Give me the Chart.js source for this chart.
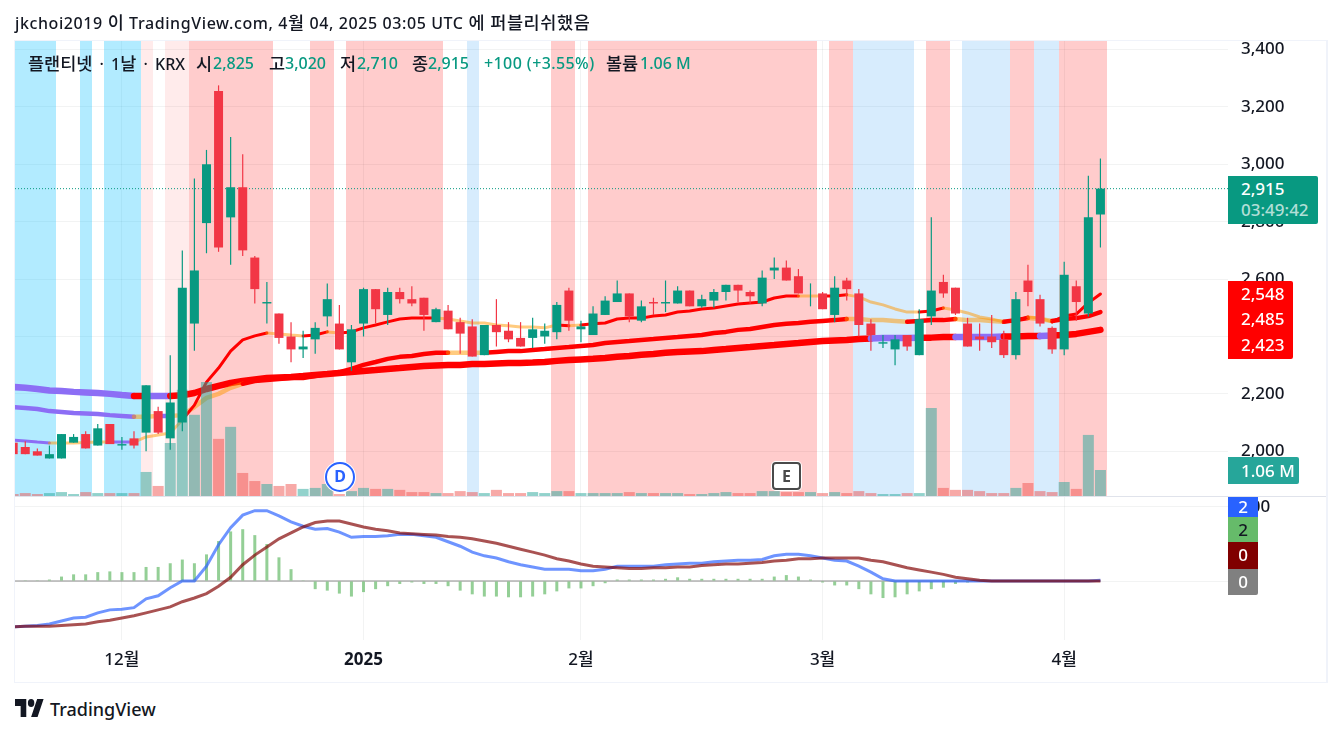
<!DOCTYPE html>
<html lang="ko">
<head>
<meta charset="utf-8">
<title>플랜티넷 1날 KRX</title>
<script src="https://cdn.jsdelivr.net/npm/chart.js@4"></script>
<style>
  html, body { margin:0; padding:0; background:#fff; }
  body { width:1341px; height:735px; position:relative; overflow:hidden; color:#131722;
         font-family:"Noto Sans","Noto Sans CJK KR",sans-serif; font-size:16px; font-weight:500; }
  canvas { position:absolute; left:15px; }
  #mainChart { top:20px; }
  #macdChart { top:497px; }
  .frame { position:absolute; left:14px; top:40px; width:1311px; height:641px; border:1px solid #f0f3fa; border-right-width:2px; }
  .sep { position:absolute; left:15px; top:496px; width:1311px; height:1px; background:#e0e3eb; }
  .txt { position:absolute; white-space:nowrap; line-height:20px; }
  .ko { font-size:17.5px; }
  .g { color:#089981; }
  .tag { position:absolute; left:1228px; color:#fff; border-radius:0 2px 2px 0; font-size:17px; }
  .tag span { position:absolute; left:13px; line-height:20px; white-space:nowrap; }
  .ev { position:absolute; background:#fff; text-align:center; font-weight:700; box-sizing:border-box; }
</style>
</head>
<body>
<div class="frame"></div>
<canvas id="mainChart" width="1311" height="476"></canvas>
<canvas id="macdChart" width="1311" height="185"></canvas>
<div class="sep"></div>

<div class="txt" style="left:15px;top:12px;letter-spacing:.6px">jkchoi2019 <span class="ko">이</span> TradingView.com, 4<span class="ko">월</span> 04, 2025 03:05 UTC <span class="ko">에 퍼블리쉬했음</span></div>

<!-- 심볼 범례 -->
<div class="txt" style="left:28px;top:53px;word-spacing:3px"><span class="ko">플랜티넷</span> · 1<span class="ko">날</span> · KRX</div>
<div class="txt ko" style="left:196px;top:53px">시</div><div class="txt g" style="left:213px;top:53px">2,825</div>
<div class="txt ko" style="left:269px;top:53px">고</div><div class="txt g" style="left:285px;top:53px">3,020</div>
<div class="txt ko" style="left:340px;top:53px">저</div><div class="txt g" style="left:357px;top:53px">2,710</div>
<div class="txt ko" style="left:412px;top:53px">종</div><div class="txt g" style="left:428px;top:53px">2,915</div>
<div class="txt g" style="left:484px;top:53px;letter-spacing:.4px">+100 (+3.55%)</div>
<div class="txt ko" style="left:606px;top:53px">볼륨</div><div class="txt g" style="left:640px;top:53px">1.06 M</div>

<!-- 이벤트 마커 -->
<div class="ev" style="left:325px;top:462px;width:30px;height:30px;line-height:25px;border:2px solid #2962ff;border-radius:50%;color:#2962ff;box-shadow:0 0 0 1px #fff">D</div>
<div class="ev" style="left:772px;top:462px;width:29px;height:28px;line-height:24px;border:2px solid #4a4a4a;border-radius:4px;color:#4a4a4a;box-shadow:0 0 0 1px #fff">E</div>

<!-- 가격축 태그 -->
<div class="tag" style="top:176px;width:90px;height:48px;background:#089981">
  <span style="top:3px">2,915</span><span style="top:24px;color:rgba(255,255,255,.7)">03:49:42</span>
</div>
<div class="tag" style="top:281px;width:65px;height:78px;background:#f00">
  <span style="top:3px">2,548</span><span style="top:28px">2,485</span><span style="top:54px">2,423</span>
</div>
<div class="tag" style="top:457px;width:71px;height:27px;background:#26a69a"><span style="top:4px">1.06 M</span></div>
<div class="tag" style="top:497px;width:30px;height:20px;background:#2962ff;border-radius:0"><span style="left:0;width:30px;text-align:center;top:0">2</span></div>
<div class="tag" style="top:517px;width:30px;height:25px;background:#66bb6a;color:#131722;border-radius:0"><span style="left:0;width:30px;text-align:center;top:3px">2</span></div>
<div class="tag" style="top:542px;width:30px;height:27px;background:#800000;border-radius:0"><span style="left:0;width:30px;text-align:center;top:3px">0</span></div>
<div class="tag" style="top:569px;width:30px;height:26px;background:#808080;border-radius:0 0 2px 0"><span style="left:0;width:30px;text-align:center;top:3px">0</span></div>

<!-- 하단 로고 -->
<svg style="position:absolute;left:15px;top:699px" width="29" height="18" viewBox="0 4 36 18" preserveAspectRatio="none"><path fill="#131722" d="M14 22H7V11H0V4h14v18zM28 22h-8l7.5-18h8L28 22z"/><circle fill="#131722" cx="20" cy="8" r="4"/></svg>
<div class="txt" style="left:50px;top:699px;font-size:18px">TradingView</div>

<script>
/* ----------------------------------------------------------
   데이터
   ---------------------------------------------------------- */
const opens = [2030,2015,2000,1975,1975,2030,2060,2020,2095,2020,
  2045,2065,2140,2045,2100,2445,2795,3255,2815,2920,
  2675,2515,2480,2400,2355,2390,2470,2445,2310,2445,
  2565,2475,2555,2530,2535,2450,2490,2450,2435,2335,
  2440,2420,2395,2395,2400,2415,2560,2425,2405,2475,
  2520,2550,2455,2520,2515,2515,2560,2505,2525,2555,
  2580,2555,2515,2630,2640,2610,2550,2550,2475,2595,
  2550,2445,2375,2355,2405,2335,2470,2590,2570,2445,
  2400,2400,2390,2335,2595,2530,2430,2355,2575,2480,2825];
const highs = [2030,2035,2010,2020,2060,2060,2070,2095,2095,2050,
  2070,2230,2155,2335,2700,2950,3050,3275,3095,3035,
  2680,2590,2480,2450,2420,2450,2585,2510,2440,2570,
  2565,2570,2570,2575,2535,2500,2510,2465,2460,2440,
  2530,2450,2450,2465,2445,2520,2570,2455,2505,2540,
  2595,2550,2525,2535,2595,2575,2560,2545,2565,2580,
  2580,2560,2630,2675,2665,2635,2585,2555,2610,2605,
  2565,2460,2405,2405,2405,2495,2815,2615,2570,2465,
  2445,2475,2420,2555,2650,2545,2435,2660,2595,2960,3020];
const lows = [1990,1990,1985,1975,1975,2030,2010,2020,2025,2005,
  2010,2000,2060,2005,2070,2350,2690,2695,2650,2680,
  2515,2445,2375,2310,2325,2340,2435,2355,2280,2400,
  2445,2440,2515,2505,2420,2450,2425,2340,2330,2335,
  2365,2380,2365,2360,2375,2390,2420,2380,2405,2475,
  2520,2450,2450,2475,2485,2515,2505,2500,2500,2525,
  2520,2515,2505,2600,2595,2550,2505,2495,2450,2525,
  2400,2350,2360,2300,2350,2335,2440,2535,2475,2365,
  2350,2360,2325,2320,2505,2435,2340,2335,2455,2470,2710];
const closes = [1990,1990,1985,1990,2060,2050,2010,2080,2025,2025,
  2020,2230,2065,2170,2570,2630,3000,2710,2920,2700,
  2565,2520,2395,2355,2365,2430,2530,2355,2425,2565,
  2495,2555,2530,2515,2475,2495,2425,2410,2330,2440,
  2415,2390,2365,2425,2420,2510,2455,2435,2480,2525,
  2550,2470,2505,2515,2520,2560,2505,2530,2555,2580,
  2560,2540,2605,2640,2595,2550,2550,2495,2570,2565,
  2440,2405,2380,2390,2365,2460,2560,2550,2480,2365,
  2390,2380,2335,2530,2555,2445,2355,2615,2520,2815,2915];
// 거래량 (백만주)
const volumes = [.08,.12,.08,.12,.16,.08,.16,.12,.12,.12,
  .12,.98,.41,2.16,4.33,3.31,4.65,2.33,2.82,.94,
  .61,.49,.41,.49,.29,.33,.49,.08,.2,.33,
  .29,.29,.25,.16,.16,.12,.12,.2,.16,.12,
  .25,.12,.12,.16,.12,.2,.2,.12,.12,.12,
  .12,.16,.12,.12,.12,.12,.08,.08,.12,.16,
  .12,.12,.2,.2,.16,.16,.16,.12,.16,.12,
  .2,.12,.08,.08,.12,.12,3.59,.33,.25,.25,
  .2,.12,.12,.33,.53,.2,.16,.57,.29,2.49,1.06];

// 이동평균 3개
const ma1 = [2039,2036,2032,2029,2029,2029,2031,2032,2032,2032,
  2032,2050,2057,2064,2109,2161,2241,2290,2349,2388,
  2402,2412,2409,2405,2402,2405,2416,2412,2416,2430,
  2440,2451,2461,2464,2464,2464,2461,2454,2447,2447,
  2440,2437,2433,2433,2430,2440,2437,2440,2444,2447,
  2461,2464,2464,2471,2475,2485,2489,2496,2499,2506,
  2513,2517,2520,2534,2541,2541,2541,2541,2541,2545,
  2538,2520,2510,2496,2485,2485,2489,2499,2492,2482,
  2468,2461,2451,2454,2468,2464,2451,2471,2478,2517,2548];
const ma2 = [2154,2151,2147,2140,2137,2133,2132,2130,2126,2123,
  2120,2120,2123,2123,2126,2154,2186,2200,2221,2235,
  2245,2248,2252,2255,2255,2262,2269,2276,2287,2301,
  2311,2322,2329,2332,2339,2343,2343,2343,2343,2343,
  2346,2349,2349,2353,2356,2360,2363,2367,2370,2377,
  2381,2384,2388,2391,2395,2398,2402,2405,2412,2416,
  2423,2426,2433,2440,2444,2447,2451,2454,2457,2461,
  2461,2457,2457,2454,2451,2454,2457,2457,2461,2457,
  2457,2454,2451,2457,2464,2461,2454,2461,2464,2471,2485];
const ma3 = [2224,2221,2217,2212,2210,2207,2205,2203,2200,2196,
  2193,2193,2193,2193,2195,2203,2217,2228,2238,2245,
  2250,2255,2257,2259,2262,2266,2269,2273,2276,2280,
  2283,2287,2290,2294,2297,2299,2301,2301,2304,2304,
  2306,2308,2308,2309,2311,2315,2318,2320,2322,2325,
  2329,2332,2336,2339,2343,2346,2348,2349,2353,2356,
  2360,2363,2367,2370,2374,2377,2381,2384,2386,2388,
  2391,2393,2395,2395,2395,2396,2396,2398,2398,2398,
  2398,2398,2400,2400,2402,2402,2403,2405,2409,2416,2423];

// 이동평균 상태 구간 (시작 인덱스, 상태)
const ma1Starts = [0,3,8,10,14,21,24,26,27,35,45,46,47,65,67,69,75,77,82,84,86];
const ma1States = ['down','mixed','down','mixed','up','mixed','up','mixed','up','mixed','up','mixed','up','mixed','up','mixed','up','mixed','up','mixed','up'];
const ma2Starts = [0,10,12,13,19,36,39,69,74,78,82,84,86];
const ma2States = ['down','mixed','down','mixed','up','mixed','up','mixed','up','mixed','up','mixed','up'];
const ma3Starts = [0,10,11,13,71,75,78,82,85,86];
const ma3States = ['down','up','down','up','down','up','down','up','down','up'];

// 배경 구간
const bandFrom = [0,6,8,11,13,15,25,28,38,45,48,68,70,76,79,83,85,87];
const bandTo   = [3,6,10,11,14,21,26,35,38,46,66,69,74,77,82,84,86,90];
const bandKind = ['cyan','cyan','cyan','pale','pale','red','red','red','blue','red','red','red','blue','red','blue','red','blue','red'];

// MACD
const macdLine = [-62,-61,-60,-58,-54,-50,-49,-43,-39,-38,
  -36,-24,-20,-9,0,0,20,49,72,89,
  95,95,88,80,74,70,71,66,59,60,
  60,61,63,63,61,59,53,47,39,34,
  31,26,22,19,16,16,16,14,14,16,
  20,20,20,20,22,23,24,24,26,27,
  28,28,29,34,36,36,34,31,28,27,
  20,12,3,0,0,0,0,0,0,0,
  0,0,0,0,0,0,0,0,0,0,1];
const signalLine = [-62,-61,-61,-61,-60,-59,-58,-55,-53,-50,
  -47,-43,-39,-35,-28,-23,-17,-7,5,22,
  35,46,57,65,73,79,81,81,77,73,
  70,68,65,64,63,62,60,59,57,54,
  51,47,43,39,35,30,27,23,20,19,
  18,17,17,18,18,19,19,21,22,23,
  23,24,25,27,28,30,30,31,31,31,
  31,28,26,22,18,15,12,9,5,3,
  1,0,0,0,0,0,0,0,0,0,0];
const histogram = [0,1,1,2,6,9,9,12,13,12,
  12,19,19,24,29,24,36,54,67,70,
  62,50,32,16,1,-11,-13,-17,-21,-15,
  -11,-7,-4,-2,-4,-4,-7,-13,-18,-21,
  -21,-22,-22,-21,-18,-14,-10,-10,-7,-3,
  2,2,2,2,3,5,3,3,3,3,
  3,3,3,6,8,6,2,-2,-6,-6,
  -11,-18,-23,-22,-18,-14,-11,-9,-4,-2,
  0,0,0,0,0,0,0,0,0,0,0];

// 축 눈금
const timeTickIndex = [9,29,47,67,87];
const timeTickLabels = ['12월','2025','2월','3월','4월'];
const priceTicks = [2000,2200,2400,2600,2800,3000,3200,3400];
const macdTicks = [0,100];

/* ----------------------------------------------------------
   공통 설정
   ---------------------------------------------------------- */
const FONT = '"Noto Sans","Noto Sans CJK KR",sans-serif';
Chart.defaults.font.family = FONT;
Chart.defaults.font.size = 17;
Chart.defaults.font.weight = '500';
Chart.defaults.color = '#131722';
Chart.defaults.animation = false;

const UP = '#089981', DOWN = '#f23645';
const GRID = 'rgba(42,46,57,.06)';
const stateColor = { up: '#ff0000', mixed: 'rgba(255,152,0,.5)', down: '#8c6ef5' };
const bandColor = {
  cyan: 'rgba(0,189,255,.3)', pale: 'rgba(255,0,0,.08)',
  red: 'rgba(255,0,0,.2)', blue: 'rgba(33,150,243,.18)',
};
const xMin = .15, xMax = 100.56;
const priceMin = 1844.2, priceMax = 3429.5;
const volMax = 18.55;

const isUp = i => closes[i] >= opens[i];
const candleColors = opens.map((_, i) => isUp(i) ? UP : DOWN);
const volumeColors = opens.map((_, i) => isUp(i) ? 'rgba(38,166,154,.5)' : 'rgba(239,83,80,.5)');
const points = arr => arr.map((y, x) => ({ x, y }));

function stateAt(starts, states, i) {
  let s = states[0];
  starts.forEach((st, k) => { if (i >= st) s = states[k]; });
  return s;
}

function maDataset(values, starts, states, width, order) {
  return {
    type: 'line', data: points(values), yAxisID: 'y', order,
    borderWidth: width, pointRadius: 0, tension: 0,
    borderColor: stateColor.up, borderCapStyle: 'round', borderJoinStyle: 'round',
    segment: { borderColor: ctx => stateColor[stateAt(starts, states, ctx.p0DataIndex)] },
  };
}

function xAxis(extra) {
  return Object.assign({
    type: 'linear', min: xMin, max: xMax, offset: false,
    afterBuildTicks: s => { s.ticks = timeTickIndex.map(value => ({ value })); },
    border: { display: false },
  }, extra);
}

// 눈금 라벨 때문에 차트 영역이 줄어들지 않게 한다
function fixYAxis(s) {
  s.width = 98;
  s.paddingTop = 0;
  s.paddingBottom = 0;
}

// 배경 구간은 스케일로 변환해서 칠한다
const bandPlugin = {
  id: 'bands',
  beforeDatasetsDraw(chart) {
    const { ctx, chartArea: a, scales: { x } } = chart;
    ctx.save();
    ctx.beginPath();
    ctx.rect(a.left, a.top, a.right - a.left, a.bottom - a.top);
    ctx.clip();
    bandFrom.forEach((from, k) => {
      const l = Math.ceil(x.getPixelForValue(from - .5));
      const r = Math.ceil(x.getPixelForValue(bandTo[k] + .5));
      ctx.fillStyle = bandColor[bandKind[k]];
      ctx.fillRect(l, a.top, r - l, a.bottom - a.top);
    });
    ctx.restore();
  },
};

/* ----------------------------------------------------------
   캔들 + 거래량 + 이동평균
   ---------------------------------------------------------- */
new Chart(document.getElementById('mainChart'), {
  type: 'bar',
  data: {
    datasets: [
      { label: '몸통', data: opens.map((o, i) => ({ x: i, y: [o, closes[i]] })), yAxisID: 'y', order: 1,
        backgroundColor: candleColors, barThickness: 9, grouped: false, inflateAmount: 0 },
      { label: '꼬리', data: lows.map((l, i) => ({ x: i, y: [l, highs[i]] })), yAxisID: 'y', order: 2,
        backgroundColor: candleColors, barThickness: 1.2, grouped: false, inflateAmount: 0 },
      { label: '볼륨', data: points(volumes), yAxisID: 'vol', order: 3,
        backgroundColor: volumeColors, barThickness: 11, grouped: false, inflateAmount: 0 },
      maDataset(ma1, ma1Starts, ma1States, 3, 4),
      maDataset(ma2, ma2Starts, ma2States, 4.5, 5),
      maDataset(ma3, ma3Starts, ma3States, 6.5, 6),
      { type: 'line', label: '종가', yAxisID: 'y', order: 7, pointRadius: 0,
        data: [{ x: xMin, y: closes[closes.length - 1] }, { x: xMax, y: closes[closes.length - 1] }],
        borderColor: UP, borderWidth: 1, borderDash: [1, 2] },
    ],
  },
  options: {
    responsive: false,
    layout: { padding: { top: 21, left: 0, right: 0, bottom: 0 } },
    events: [],
    plugins: { legend: { display: false }, tooltip: { enabled: false } },
    scales: {
      x: xAxis({
        afterFit: s => { s.height = 0; },
        ticks: { display: false },
        grid: { color: GRID, drawTicks: false, offset: false },
      }),
      y: {
        position: 'right', min: priceMin, max: priceMax,
        afterBuildTicks: s => { s.ticks = priceTicks.map(value => ({ value })); },
        afterFit: fixYAxis,
        border: { display: false },
        grid: { color: GRID, drawTicks: false },
        ticks: { padding: 13, callback: v => v.toLocaleString('en-US') },
      },
      vol: { display: false, min: 0, max: volMax },
    },
  },
  plugins: [bandPlugin],
});

/* ----------------------------------------------------------
   MACD
   ---------------------------------------------------------- */
new Chart(document.getElementById('macdChart'), {
  type: 'bar',
  data: {
    datasets: [
      { type: 'line', label: 'Signal', data: points(signalLine), order: 1, pointRadius: 0, tension: 0,
        borderColor: 'rgba(128,0,0,.68)', borderWidth: 3 },
      { type: 'line', label: 'MACD', data: points(macdLine), order: 2, pointRadius: 0, tension: 0,
        borderColor: 'rgba(41,98,255,.68)', borderWidth: 3 },
      { label: 'Histogram', data: points(histogram), order: 3,
        backgroundColor: 'rgba(102,187,106,.7)', barThickness: 3, grouped: false, inflateAmount: 0 },
      { type: 'line', label: 'Zero', data: points(histogram.map(() => 0)), order: 4, pointRadius: 0,
        borderColor: 'rgba(128,128,128,.6)', borderWidth: 1.5 },
    ],
  },
  options: {
    responsive: false,
    layout: { padding: 0 },
    events: [],
    plugins: { legend: { display: false }, tooltip: { enabled: false } },
    scales: {
      x: xAxis({
        afterFit: s => { s.height = 42; },
        grid: { color: GRID, drawTicks: false, offset: false },
        ticks: {
          autoSkip: false, maxRotation: 0, padding: 10,
          font: ctx => ({ size: 17, family: FONT, weight: ctx.tick && ctx.tick.value === 29 ? '700' : '500' }),
          callback: v => timeTickLabels[timeTickIndex.indexOf(v)],
        },
      }),
      y: {
        position: 'right', min: -79.7, max: 113.5,
        afterBuildTicks: s => { s.ticks = macdTicks.map(value => ({ value })); },
        afterFit: fixYAxis,
        border: { display: false },
        grid: { color: GRID, drawTicks: false },
        ticks: { padding: 13 },
      },
    },
  },
});
</script>
</body>
</html>
